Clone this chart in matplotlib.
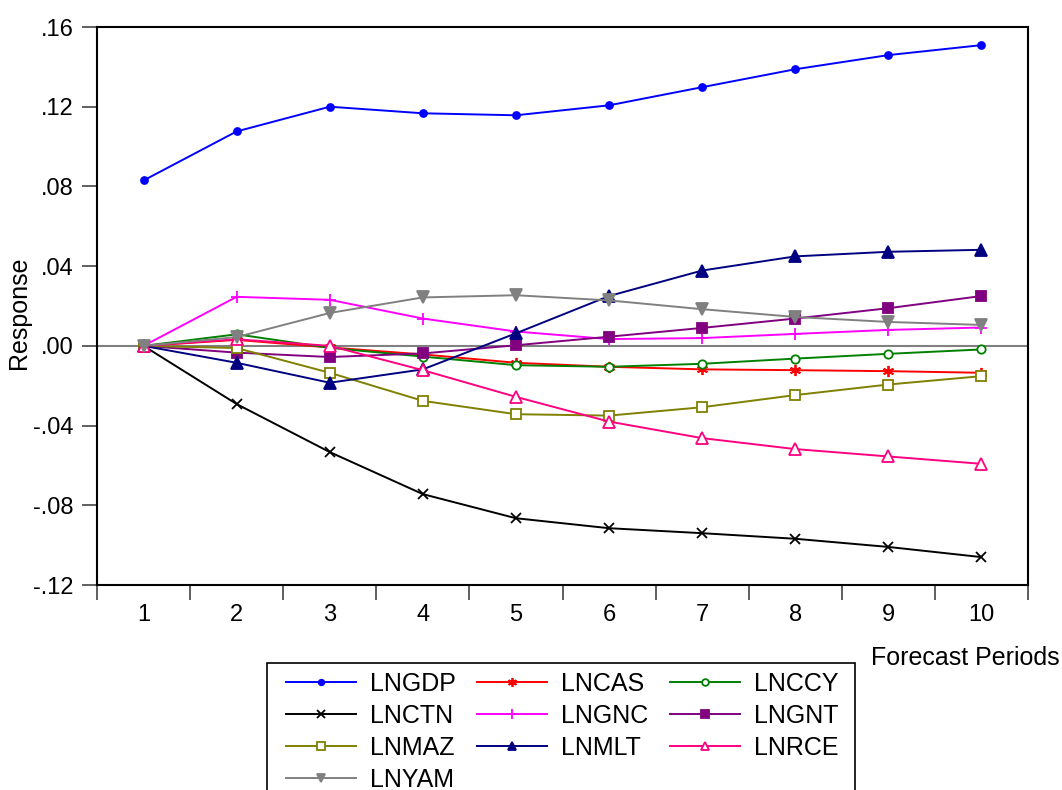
import numpy as np
import matplotlib
matplotlib.use("Agg")
import matplotlib.pyplot as plt
from matplotlib.patches import Rectangle
from matplotlib.ticker import FixedLocator, FuncFormatter

# impulse responses of LNGDP, forecast periods 1..10
periods = np.arange(1, 11)

lngdp = [0.083, 0.1076, 0.1200, 0.1167, 0.1157, 0.1207, 0.1298, 0.1388, 0.1459, 0.1509]
lncas = [0.0, 0.0030, -0.0008, -0.0043, -0.0085, -0.0105, -0.0118, -0.0122, -0.0127, -0.0135]
lnccy = [0.0, 0.0058, -0.0010, -0.0054, -0.0097, -0.0105, -0.0090, -0.0064, -0.0040, -0.0018]
lnctn = [0.0, -0.0292, -0.0533, -0.0744, -0.0865, -0.0915, -0.0940, -0.0968, -0.1009, -0.1060]
lngnc = [0.0, 0.0246, 0.0231, 0.0137, 0.0072, 0.0034, 0.0039, 0.0060, 0.0080, 0.0092]
lngnt = [0.0, -0.0034, -0.0056, -0.0038, 0.0003, 0.0046, 0.0090, 0.0137, 0.0189, 0.0250]
lnmaz = [0.0, -0.0011, -0.0135, -0.0276, -0.0343, -0.0350, -0.0308, -0.0247, -0.0194, -0.0152]
lnmlt = [0.0, -0.0085, -0.0185, -0.0118, 0.0063, 0.0250, 0.0378, 0.0449, 0.0472, 0.0482]
lnrce = [0.0, 0.0033, 0.0000, -0.0122, -0.0256, -0.0380, -0.0463, -0.0518, -0.0555, -0.0592]
lnyam = [0.0, 0.0044, 0.0165, 0.0243, 0.0254, 0.0228, 0.0184, 0.0145, 0.0120, 0.0105]

yticks = [-0.12, -0.08, -0.04, 0.0, 0.04, 0.08, 0.12, 0.16]

plt.rcParams["font.family"] = ["Liberation Sans", "DejaVu Sans"]

W, H = 1062, 790
fig = plt.figure(figsize=(W / 100, H / 100), dpi=100)
ax = fig.add_axes([97 / W, 1 - 585 / H, (1028 - 97) / W, (585 - 27) / H])

ax.axhline(0, color="#808080", lw=1.5, zorder=1)

# (label, data, color, marker, filled, size)
series = [
    ("LNGDP", lngdp, "#0000FF", "o", True, 5),
    ("LNCAS", lncas, "#FF0000", (6, 2, 0), True, 8),
    ("LNCCY", lnccy, "#008000", "o", False, 6),
    ("LNCTN", lnctn, "#000000", "x", True, 7),
    ("LNGNC", lngnc, "#FF00FF", "+", True, 9),
    ("LNGNT", lngnt, "#800080", "s", True, 7),
    ("LNMAZ", lnmaz, "#808000", "s", False, 7),
    ("LNMLT", lnmlt, "#000080", "^", True, 8),
    ("LNRCE", lnrce, "#FF0080", "^", False, 8),
    ("LNYAM", lnyam, "#808080", "v", True, 8),
]

handles = {}
for name, vals, col, mk, filled, ms in series:
    h, = ax.plot(periods, vals, color=col, lw=1.4, marker=mk, ms=ms,
                 mfc=col if filled else "white", mec=col, mew=1.3, label=name, zorder=3)
    handles[name] = h

ax.set_xlim(0.5, 10.5)
ax.set_ylim(-0.12, 0.16)

# ticks sit between periods, labels at the periods
ax.xaxis.set_major_locator(FixedLocator(np.arange(0.5, 11, 1)))
ax.xaxis.set_minor_locator(FixedLocator(periods))
ax.xaxis.set_major_formatter(FuncFormatter(lambda v, p: ""))
ax.xaxis.set_minor_formatter(FuncFormatter(lambda v, p: f"{int(round(v))}"))
ax.tick_params(axis="x", which="major", direction="out", length=11, width=1.2, color="#444444")
ax.tick_params(axis="x", which="minor", length=0, pad=14, labelsize=17)

ax.set_yticks(yticks)
ax.yaxis.set_major_formatter(FuncFormatter(
    lambda v, p: ".00" if abs(v) < 1e-9 else (f"{v:.2f}".replace("0.", ".", 1))))
ax.tick_params(axis="y", direction="out", length=11, width=1.2, color="#444444",
               labelsize=17, pad=6)

for s in ax.spines.values():
    s.set_linewidth(1.5)
    s.set_color("black")

fig.text(19 / W, 1 - 313 / H, "Response", fontsize=18, rotation=90,
         ha="center", va="center")
fig.text(1060 / W, 1 - 658 / H, "Forecast Periods", fontsize=18,
         ha="right", va="center")

# legend: EViews fills row by row, matplotlib column by column
order = ["LNGDP", "LNCTN", "LNMAZ", "LNYAM", "LNCAS", "LNGNC", "LNMLT",
         "LNCCY", "LNGNT", "LNRCE"]
leg = fig.legend([handles[n] for n in order], order, ncol=3,
                 loc="upper left", bbox_to_anchor=(286 / W, 1 - 672 / H),
                 fontsize=18, frameon=False, borderaxespad=0, borderpad=0,
                 handlelength=2.8, handletextpad=0.56, columnspacing=0.86,
                 labelspacing=0.32, markerscale=0.8)
fig.add_artist(Rectangle((267 / W, -0.05), (855 - 267) / W, 1 - 663 / H + 0.05,
                         transform=fig.transFigure, fill=False, ec="black", lw=1.2))

fig.savefig("out.png", dpi=100)
